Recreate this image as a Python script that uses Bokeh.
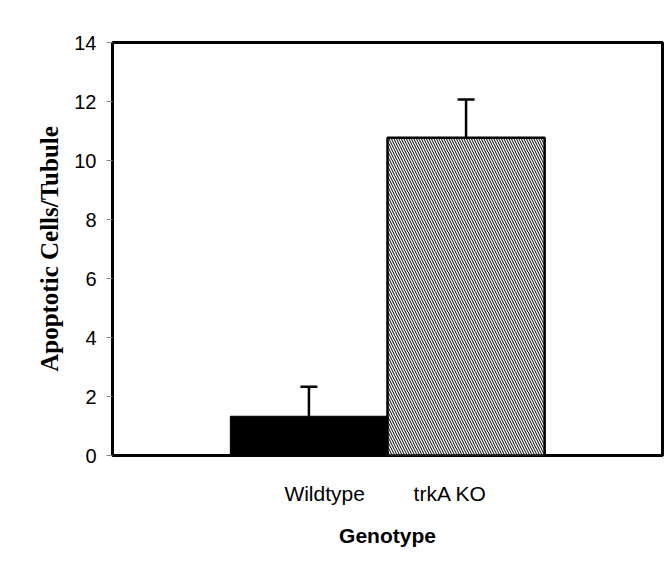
from bokeh.plotting import figure
from bokeh.models import Range1d, FixedTicker, ColumnDataSource, Whisker, TeeHead
from bokeh.embed import file_html
from bokeh.resources import INLINE

# ---- data ----
genotypes = ["Wildtype", "trkA KO"]
means = [1.33, 10.77]
errors = [1.0, 1.3]
y_ticks = [0, 2, 4, 6, 8, 10, 12, 14]

# layout positions (one category, two adjacent series bars)
bar_x = [-0.5, 0.5]
label_x = [-0.4, 0.4]

p = figure(width=668, height=565, output_backend="svg", toolbar_location=None,
           x_range=Range1d(-1.75, 1.75), y_range=Range1d(0, 14),
           min_border_left=112, min_border_right=6, min_border_top=42, min_border_bottom=110)
p.xgrid.visible = False
p.ygrid.visible = False
p.background_fill_color = "white"
p.border_fill_color = "white"
p.outline_line_color = "black"
p.outline_line_width = 3

upper = [m + e for m, e in zip(means, errors)]

# Wildtype bar (solid black)
p.vbar(x=[bar_x[0]], top=[means[0]], width=1.0, bottom=0,
       fill_color="black", line_color="black", line_width=1)
# trkA KO bar (hatched)
p.vbar(x=[bar_x[1]], top=[means[1]], width=1.0, bottom=0,
       fill_color="white", line_color="black", line_width=2.5,
       hatch_pattern="left_diagonal_line", hatch_color="black",
       hatch_scale=5, hatch_weight=1.0)

src = ColumnDataSource(dict(x=bar_x, lower=means, upper=upper))
w = Whisker(base="x", lower="lower", upper="upper", source=src,
            line_color="black", line_width=2.5,
            upper_head=TeeHead(size=17, line_width=2.5, line_color="black"),
            lower_head=None)
p.add_layout(w)

# y axis
p.yaxis.ticker = FixedTicker(ticks=y_ticks)
p.yaxis.axis_line_color = None
p.yaxis.major_tick_line_color = "#888888"
p.yaxis.major_tick_line_width = 1
p.yaxis.major_tick_out = 6
p.yaxis.major_tick_in = 0
p.yaxis.minor_tick_line_color = None
p.yaxis.major_label_text_font = "Liberation Sans"
p.yaxis.major_label_text_font_size = "20px"
p.yaxis.major_label_text_color = "black"
p.yaxis.major_label_standoff = 10
p.yaxis.axis_label = "Apoptotic Cells/Tubule"
p.yaxis.axis_label_text_font = "Liberation Serif"
p.yaxis.axis_label_text_font_style = "bold"
p.yaxis.axis_label_text_font_size = "25px"
p.yaxis.axis_label_text_color = "black"
p.yaxis.axis_label_standoff = 8

# x axis
p.xaxis.ticker = FixedTicker(ticks=label_x)
p.xaxis.major_label_overrides = {label_x[0]: genotypes[0], label_x[1]: genotypes[1]}
p.xaxis.axis_line_color = None
p.xaxis.major_tick_line_color = None
p.xaxis.minor_tick_line_color = None
p.xaxis.major_label_text_font = "Liberation Sans"
p.xaxis.major_label_text_font_size = "21px"
p.xaxis.major_label_text_color = "black"
p.xaxis.major_label_standoff = 20
p.xaxis.axis_label = "Genotype"
p.xaxis.axis_label_text_font = "Liberation Sans"
p.xaxis.axis_label_text_font_style = "bold"
p.xaxis.axis_label_text_font_size = "21px"
p.xaxis.axis_label_text_color = "black"
p.xaxis.axis_label_standoff = 16

open("out.html", "w").write(file_html(p, INLINE))
